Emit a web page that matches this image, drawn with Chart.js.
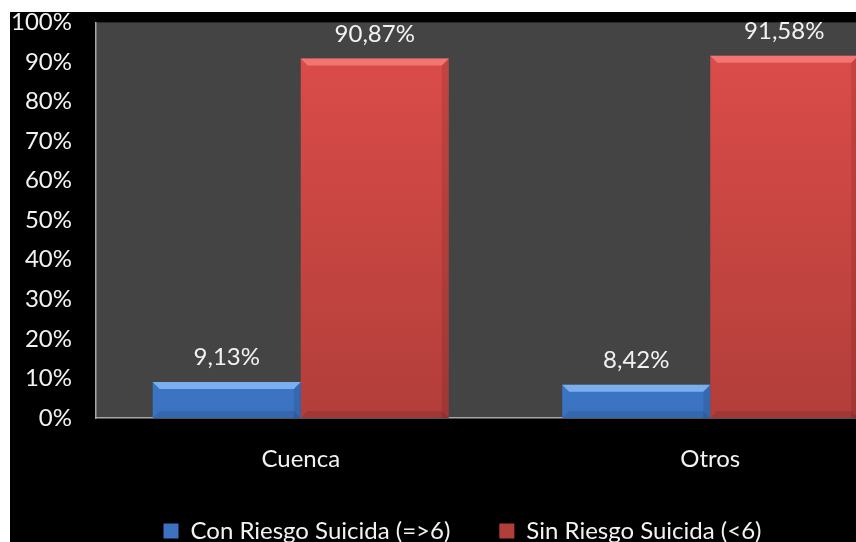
<!DOCTYPE html>
<html>
<head>
<meta charset="utf-8">
<script src="https://cdn.jsdelivr.net/npm/chart.js@4"></script>
<style>
  html, body { margin: 0; padding: 0; background: #ffffff; overflow: hidden; width: 856px; height: 542px; }
  #wrap { position: absolute; left: 10px; top: 12px; width: 920px; height: 530px; background: #000000; overflow: hidden; }
  #myChart { position: absolute; left: 0; top: -4px; }
</style>
</head>
<body>
<div id="wrap"><canvas id="myChart" width="920" height="550"></canvas></div>
<script>
// categorias y porcentajes
const grupos = ["Cuenca", "Otros"];
const conRiesgo = [9.13, 8.42];
const sinRiesgo = [90.87, 91.58];
const serieNombres = ["Con Riesgo Suicida (=>6)", "Sin Riesgo Suicida (<6)"];
const ejeY = [0, 10, 20, 30, 40, 50, 60, 70, 80, 90, 100];

const fuente = "Lato, 'Open Sans', sans-serif";

// degradado vertical para cada serie
function degradado(arriba, abajo) {
    return function (ctx) {
        const area = ctx.chart.chartArea;
        if (!area) return arriba;
        const g = ctx.chart.ctx.createLinearGradient(0, area.top, 0, area.bottom);
        g.addColorStop(0, arriba);
        g.addColorStop(1, abajo);
        return g;
    };
}

/*fondo gris de la zona de barras*/
const fondoPlugin = {
    id: "fondo",
    beforeDraw(chart) {
        const c = chart.ctx, a = chart.chartArea;
        c.save();
        c.fillStyle = "#000000";
        c.fillRect(0, 0, chart.width, chart.height);
        c.fillStyle = "#444444";
        c.fillRect(a.left, a.top, a.right - a.left, a.bottom - a.top);
        c.restore();
    }
};

/*biselado de las barras y etiquetas de valor*/
const biselPlugin = {
    id: "bisel",
    afterDatasetsDraw(chart) {
        const c = chart.ctx;
        const luces = ["rgba(150,200,255,0.7)", "rgba(255,140,140,0.65)"];
        chart.data.datasets.forEach((ds, i) => {
            chart.getDatasetMeta(i).data.forEach((bar, j) => {
                const l = bar.x - bar.width / 2, r = bar.x + bar.width / 2;
                const t = bar.y, b = bar.base;
                const bv = Math.min(7, (b - t) / 2);
                c.save();
                c.fillStyle = luces[i];
                c.beginPath();
                c.moveTo(l, t); c.lineTo(r, t); c.lineTo(r - bv, t + bv); c.lineTo(l + bv, t + bv);
                c.closePath(); c.fill();
                c.fillStyle = "rgba(0,0,0,0.10)";
                c.beginPath();
                c.moveTo(r, t); c.lineTo(r, b); c.lineTo(r - bv, b); c.lineTo(r - bv, t + bv);
                c.closePath(); c.fill();
                c.fillStyle = "rgba(0,0,0,0.10)";
                c.beginPath();
                c.moveTo(l, b); c.lineTo(r, b); c.lineTo(r - bv, b - bv); c.lineTo(l + bv, b - bv);
                c.closePath(); c.fill();
                c.fillStyle = "#f2f2f2";
                c.font = "24px " + fuente;
                c.textAlign = "center";
                c.textBaseline = "alphabetic";
                c.fillText(ds.data[j].toFixed(2).replace(".", ",") + "%", bar.x, t - 17);
                c.restore();
            });
        });
    }
};

// sube un poco la leyenda (el padding grande es para separar los elementos)
const leyendaPlugin = {
    id: "leyendaPos",
    afterLayout(chart) {
        chart.legend.top -= 5;
        chart.legend.bottom -= 5;
    }
};

const config = {
    type: "bar",
    data: {
        labels: grupos,
        datasets: [
            { label: serieNombres[0], data: conRiesgo, backgroundColor: degradado("#4f92e0", "#3b72c2") },
            { label: serieNombres[1], data: sinRiesgo, backgroundColor: degradado("#de4d4a", "#b23e3a") }
        ]
    },
    options: {
        responsive: false,
        animation: false,
        layout: { padding: { top: 0, right: 15, bottom: 0, left: 0 } },
        datasets: { bar: { categoryPercentage: 0.723, barPercentage: 1 } },
        scales: {
            x: {
                afterFit(s) { s.height = 57; },
                grid: { display: false, drawTicks: false },
                border: { display: true, color: "#a8a8a8", width: 1.5 },
                ticks: { color: "#f2f2f2", font: { family: fuente, size: 24 }, padding: 27 }
            },
            y: {
                min: 0,
                max: 100,
                afterFit(s) { s.width = 86; },
                afterBuildTicks(s) { s.ticks = ejeY.map(v => ({ value: v })); },
                grid: { display: false, drawTicks: true, tickLength: 24 },
                border: { display: true, color: "#a8a8a8", width: 1.5 },
                ticks: { color: "#f2f2f2", font: { family: fuente, size: 24 }, padding: 0, callback: v => v + "%" }
            }
        },
        plugins: {
            legend: {
                position: "bottom",
                labels: { color: "#f2f2f2", font: { family: fuente, size: 24 }, boxWidth: 15, boxHeight: 15, padding: 49 }
            },
            tooltip: { enabled: false }
        }
    },
    plugins: [fondoPlugin, biselPlugin, leyendaPlugin]
};

window.onload = function () {
    new Chart(document.getElementById("myChart"), config);
};
</script>
</body>
</html>
